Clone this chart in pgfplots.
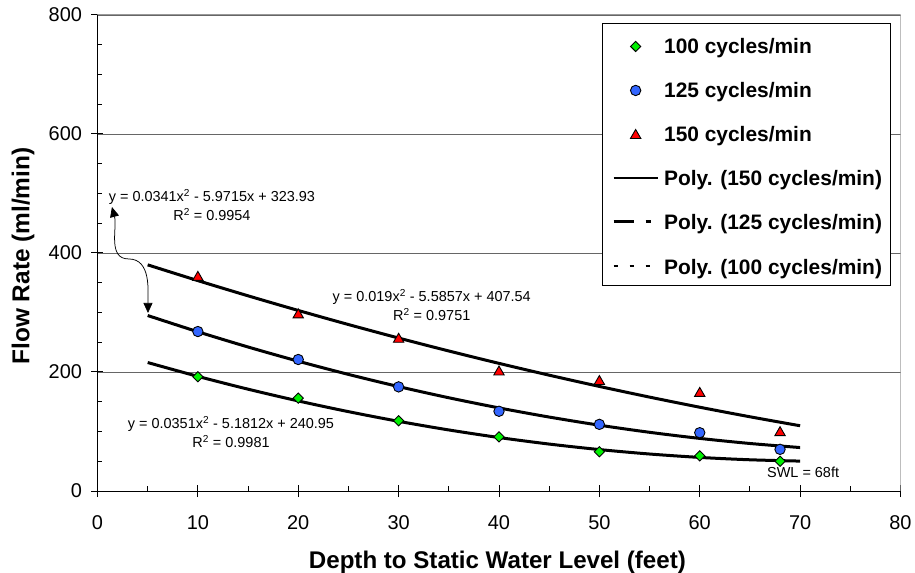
\documentclass[border=0pt]{standalone}
\usepackage{fontspec}
\setmainfont{Liberation Sans}
\usepackage{pgfplots}
\pgfplotsset{compat=1.18}
\usetikzlibrary{arrows.meta}
\definecolor{mgreen}{RGB}{0,240,0}
\definecolor{mblue}{RGB}{51,102,255}
\definecolor{mred}{RGB}{255,0,0}
\pgfplotsset{
  markleg/.style={legend image code/.code={\path (0bp,0bp) (46bp,0bp); \draw[##1] plot coordinates {(24bp,-1.8bp)};}},
  markltri/.style={legend image code/.code={\path (0bp,0bp) (46bp,0bp); \draw[##1] plot coordinates {(24bp,-2.8bp)};}},
  lineleg/.style={legend image code/.code={\path (0bp,0bp) (46bp,0bp); \draw[##1] (2bp,-1.3bp) -- (46bp,-1.3bp);}},
}
\begin{document}
\begin{tikzpicture}
\path[use as bounding box] (-97.5bp,-82bp) rectangle (817.5bp,491bp);
\begin{axis}[
  scale only axis, width=803bp, height=476bp,
  at={(0,0)}, anchor=south west,
  xmin=0, xmax=80, ymin=0, ymax=800,
  xtick={0,10,...,80}, ytick={0,200,...,800},
  minor x tick num=1, minor y tick num=3,
  axis lines=left,
  axis line style={-, black, line width=1bp},
  ymajorgrids, grid style={black!60, line width=0.75bp},
  tick style={black, line width=1bp},
  major tick length=12bp, minor tick length=5bp, tick align=center,
  minor x tick style={yshift=2.5bp}, minor y tick style={xshift=2.5bp},
  tick label style={font=\fontsize{20}{24}\selectfont},
  x tick label style={yshift=-15bp},
  y tick label style={xshift=-6bp},
  /pgf/number format/assume math mode=true,
  xlabel={Depth to Static Water Level (feet)},
  ylabel={Flow Rate (ml/min)},
  every axis x label/.style={at={(axis description cs:0.498,-0.1505)}, anchor=center, font=\fontsize{24.2}{28}\selectfont\bfseries},
  every axis y label/.style={at={(axis description cs:-0.0928,0.4937)}, anchor=center, rotate=90, font=\fontsize{24.5}{28}\selectfont\bfseries},
  legend cell align=left,
  legend style={at={(axis description cs:1,1)}, anchor=north east, xshift=-10bp, yshift=-8bp,
    draw=black, line width=1bp, fill=white,
    font=\fontsize{21}{25}\selectfont\bfseries,
    inner xsep=8bp, inner ysep=5bp, row sep=11.7bp, column sep=5bp,
    nodes={inner sep=0pt, text height=25.5bp, text depth=6.8bp}},
]
% legend entries
\addlegendimage{only marks, mark=square*, mark size=3.6bp, mark options={rotate=45, fill=mgreen, draw=black, line width=0.9bp}, markleg}
\addlegendentry{100 cycles/min}
\addlegendimage{only marks, mark=*, mark size=5.2bp, mark options={fill=mblue, draw=black, line width=0.9bp}, markleg}
\addlegendentry{125 cycles/min}
\addlegendimage{only marks, mark=triangle*, mark size=6bp, mark options={fill=mred, draw=black, line width=0.9bp}, markltri}
\addlegendentry{150 cycles/min}
\addlegendimage{black, line width=2bp, lineleg}
\addlegendentry{Poly. (150 cycles/min)}
\addlegendimage{black, line width=3bp, dash pattern=on 20bp off 12bp on 5bp off 12bp, lineleg}
\addlegendentry{Poly. (125 cycles/min)}
\addlegendimage{black, line width=2.5bp, dash pattern=on 4.5bp off 11.5bp, lineleg}
\addlegendentry{Poly. (100 cycles/min)}

% data markers
\addplot[only marks, mark=square*, mark size=3.6bp, mark options={rotate=45, fill=mgreen, draw=black, line width=0.9bp}, forget plot]
  coordinates {(10,192) (20,156) (30,118) (40,91) (50,66) (60,59) (68,50)};
\addplot[only marks, mark=*, mark size=5.2bp, mark options={fill=mblue, draw=black, line width=0.9bp}, forget plot]
  coordinates {(10,268) (20,221) (30,175) (40,134) (50,112) (60,98) (68,70)};
\addplot[only marks, mark=triangle*, mark size=6bp, mark options={fill=mred, draw=black, line width=0.9bp}, forget plot]
  coordinates {(10,359) (20,296) (30,255) (40,200) (50,184) (60,164) (68,98)};

% polynomial trend lines (values from the printed equations)
\addplot[black, line width=3bp, smooth, forget plot] coordinates {
  (5,380.09) (10,353.58) (15,328.03) (20,303.43) (25,279.77) (30,257.07) (35,235.32)
  (40,214.51) (45,194.66) (50,175.76) (55,157.80) (60,140.80) (65,124.74) (70,109.64)};
\addplot[black, line width=3bp, smooth, forget plot] coordinates {
  (5,294.93) (10,267.63) (15,242.03) (20,218.14) (25,195.96) (30,175.48) (35,156.70)
  (40,139.63) (45,124.27) (50,110.61) (55,98.65) (60,88.40) (65,79.86) (70,73.02)};
\addplot[black, line width=3bp, smooth, forget plot] coordinates {
  (5,215.92) (10,192.65) (15,171.13) (20,151.37) (25,133.36) (30,117.10) (35,102.61)
  (40,89.86) (45,78.87) (50,69.64) (55,62.16) (60,56.44) (65,52.47) (70,50.26)};

% top and right frame
\draw[black!40, line width=1bp] (rel axis cs:0,1) -- (rel axis cs:1,1) -- (rel axis cs:1,0);

% annotations
\node[align=center, font=\fontsize{14.5}{19}\selectfont] at (axis cs:11.4,481)
  {y = 0.0341x\textsuperscript{2} - 5.9715x + 323.93\\R\textsuperscript{2} = 0.9954};
\node[align=center, font=\fontsize{14.5}{19}\selectfont] at (axis cs:33.3,313)
  {y = 0.019x\textsuperscript{2} - 5.5857x + 407.54\\R\textsuperscript{2} = 0.9751};
\node[align=center, font=\fontsize{14.5}{19}\selectfont] at (axis cs:13.3,99)
  {y = 0.0351x\textsuperscript{2} - 5.1812x + 240.95\\R\textsuperscript{2} = 0.9981};
\node[font=\fontsize{14.5}{19}\selectfont] at (axis cs:70.3,31) {SWL = 68ft};
\draw[line width=0.75bp, {Triangle[width=9bp,length=10bp]}-{Triangle[width=9bp,length=10bp]}]
  (axis cs:1.44,477.3) to[out=-75, in=180] (axis cs:3.1,390) to[out=0, in=90] (axis cs:5.03,299.2);
\end{axis}
\end{tikzpicture}
\end{document}
